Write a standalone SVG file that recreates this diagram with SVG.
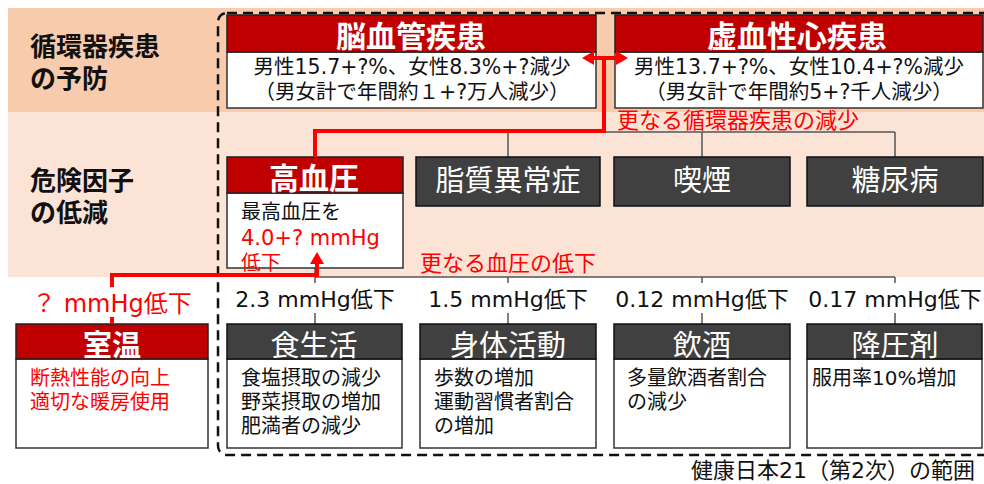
<svg xmlns="http://www.w3.org/2000/svg" width="984" height="484" viewBox="0 0 984 484">
<defs>
<style>
text{font-family:"Noto Sans CJK JP","Noto Sans",sans-serif}
.mx{font-family:"DejaVu Sans","Noto Sans CJK JP",sans-serif}
.b1{fill:#F8CBAD}
.b2{fill:#FBE4D6}
.rh{fill:#C00000;stroke:#222;stroke-width:1.5}
.wb{fill:#FFFFFF;stroke:#333;stroke-width:1.5}
.dk{fill:#404040;stroke:#111;stroke-width:1.5}
.ht{fill:#FFFFFF;font-weight:bold;font-size:30px;text-anchor:middle}
.dt{fill:#FFFFFF;font-size:29px;text-anchor:middle}
.bt{fill:#111;font-size:20px}
.tb{fill:#111;font-size:20.5px;text-anchor:middle}
.rt{fill:#FF0000;font-size:20px}
.rb{fill:#FF0000;font-size:22px}
.lt{fill:#111;font-weight:bold;font-size:26px}
.gl{fill:none;stroke:#555;stroke-width:1.5}
.rl{fill:none;stroke:#FF0000;stroke-width:4}
.ml{fill:#111;font-size:22px;text-anchor:middle}
</style>
<marker id="ah" viewBox="0 0 12 14" refX="4" refY="7" markerWidth="12" markerHeight="14" markerUnits="userSpaceOnUse" orient="auto-start-reverse"><path d="M0,0 L12,7 L0,14 Z" fill="#FF0000"/></marker>
</defs>
<rect x="0" y="0" width="984" height="484" fill="#FFFFFF"/>
<rect class="b1" x="8" y="8" width="976" height="104"/>
<rect class="b2" x="8" y="112" width="976" height="165"/>
<rect x="218" y="13" width="780" height="442" rx="9" fill="none" stroke="#111" stroke-width="2.5" stroke-dasharray="10 6"/>
<text class="lt" x="30" y="56">循環器疾患</text>
<text class="lt" x="30" y="88">の予防</text>
<text class="lt" x="30" y="190">危険因子</text>
<text class="lt" x="30" y="222">の低減</text>
<g id="connectors">
<path class="gl" d="M315,132 H895 M508,132 V157 M702,132 V157 M895,132 V157"/>
<path class="gl" d="M315,268 V324 M315,277 H895 M508,277 V324 M702,277 V324 M895,277 V324"/>
</g>
<g id="n-noukekkan">
<rect class="wb" x="227" y="52" width="369" height="56"/>
<rect class="rh" x="227" y="15" width="369" height="37"/>
<text class="ht" x="411" y="47">脳血管疾患</text>
<text class="tb mx" x="412" y="74">男性15.7+?%、女性8.3%+?減少</text>
<text class="tb mx" x="412" y="99">（男女計で年間約１+?万人減少）</text>
</g>
<g id="n-kyoketsu">
<rect class="wb" x="615" y="52" width="368" height="56"/>
<rect class="rh" x="615" y="15" width="368" height="37"/>
<text class="ht" x="797" y="47">虚血性心疾患</text>
<text class="tb mx" x="799" y="74">男性13.7+?%、女性10.4+?%減少</text>
<text class="tb mx" x="799" y="99">（男女計で年間約5+?千人減少）</text>
</g>
<g id="n-kouketsuatsu">
<rect class="wb" x="227" y="193" width="176" height="75"/>
<rect class="rh" x="227" y="157" width="176" height="36"/>
<text class="ht" x="314" y="189">高血圧</text>
<text class="bt" x="241" y="219">最高血圧を</text>
<text class="rt mx" x="241" y="245" style="font-size:21px">4.0+? mmHg</text>
<text class="rt" x="241" y="270">低下</text>
</g>
<g id="n-shishitsu">
<rect class="dk" x="416" y="157" width="184" height="49"/>
<text class="dt" x="508" y="191">脂質異常症</text>
</g>
<g id="n-kitsuen">
<rect class="dk" x="614" y="157" width="176" height="49"/>
<text class="dt" x="702" y="191">喫煙</text>
</g>
<g id="n-tounyou">
<rect class="dk" x="807" y="157" width="176" height="49"/>
<text class="dt" x="895" y="191">糖尿病</text>
</g>
<g id="n-shitsuon">
<rect class="wb" x="16" y="359" width="192" height="89"/>
<rect class="rh" x="16" y="324" width="192" height="35"/>
<text class="ht" x="112" y="356" style="font-size:29px">室温</text>
<text class="rt" x="30" y="385">断熱性能の向上</text>
<text class="rt" x="30" y="409">適切な暖房使用</text>
</g>
<g id="n-shokuseikatsu">
<rect class="wb" x="227" y="359" width="175" height="89"/>
<rect class="dk" x="227" y="324" width="175" height="35"/>
<text class="dt" x="314" y="356">食生活</text>
<text class="bt" x="241" y="385">食塩摂取の減少</text>
<text class="bt" x="241" y="409">野菜摂取の増加</text>
<text class="bt" x="241" y="433">肥満者の減少</text>
</g>
<g id="n-shintai">
<rect class="wb" x="420" y="359" width="176" height="89"/>
<rect class="dk" x="420" y="324" width="176" height="35"/>
<text class="dt" x="508" y="356">身体活動</text>
<text class="bt" x="434" y="385">歩数の増加</text>
<text class="bt" x="434" y="409">運動習慣者割合</text>
<text class="bt" x="434" y="433">の増加</text>
</g>
<g id="n-inshu">
<rect class="wb" x="614" y="359" width="176" height="89"/>
<rect class="dk" x="614" y="324" width="176" height="35"/>
<text class="dt" x="702" y="356">飲酒</text>
<text class="bt" x="627" y="385">多量飲酒者割合</text>
<text class="bt" x="627" y="409">の減少</text>
</g>
<g id="n-kouatsuzai">
<rect class="wb" x="807" y="359" width="175" height="89"/>
<rect class="dk" x="807" y="324" width="175" height="35"/>
<text class="dt" x="895" y="356">降圧剤</text>
<text class="bt mx" x="812" y="385">服用率10%増加</text>
</g>
<g id="red-connectors">
<line class="rl" x1="590" y1="58" x2="620" y2="58" marker-start="url(#ah)" marker-end="url(#ah)"/>
<polyline class="rl" points="604,58 604,131 315,131 315,157"/>
<polyline class="rl" points="112,324 112,275 317,275 317,260" marker-end="url(#ah)"/>
</g>
<g id="labels">
<text class="rb" x="617" y="128">更なる循環器疾患の減少</text>
<text class="rb" x="420" y="271">更なる血圧の低下</text>
<rect x="30" y="287" width="166" height="30" fill="#FFFFFF"/>
<text class="rb mx" x="32" y="312" style="font-size:24px">？ mmHg低下</text>
<rect x="232" y="283" width="166" height="30" fill="#FFFFFF"/>
<text class="ml mx" x="315" y="307">2.3 mmHg低下</text>
<rect x="425" y="283" width="166" height="30" fill="#FFFFFF"/>
<text class="ml mx" x="508" y="307">1.5 mmHg低下</text>
<rect x="614" y="283" width="176" height="30" fill="#FFFFFF"/>
<text class="ml mx" x="702" y="307">0.12 mmHg低下</text>
<rect x="807" y="283" width="176" height="30" fill="#FFFFFF"/>
<text class="ml mx" x="895" y="307">0.17 mmHg低下</text>
<text class="mx" x="975" y="478" style="font-size:22px;fill:#111" text-anchor="end">健康日本21（第2次）の範囲</text>
</g>
</svg>
